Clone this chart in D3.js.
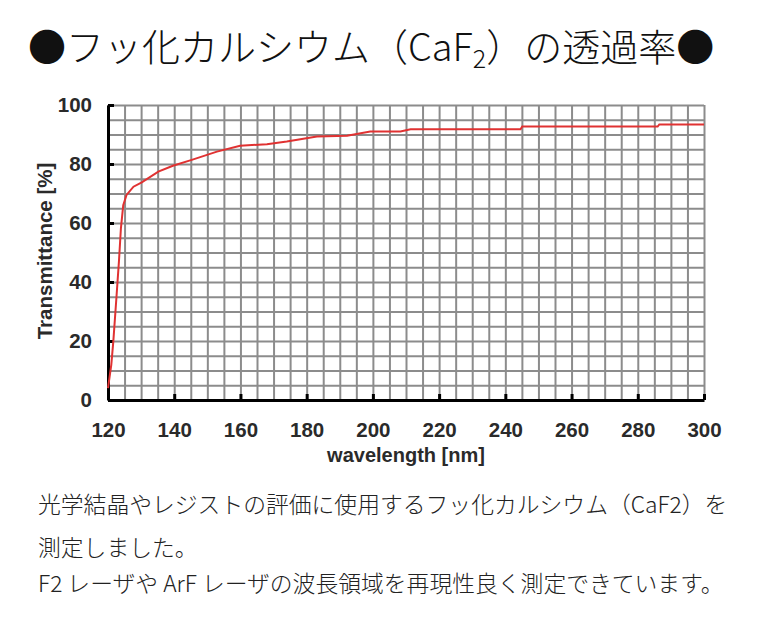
<!DOCTYPE html>
<html>
<head>
<meta charset="utf-8">
<script src="https://cdn.jsdelivr.net/npm/d3@7"></script>
<style>
    body { margin: 0; background: #fff; }
    .chart text { font-family: "Liberation Sans", Arial, sans-serif; }
    .chart text.jp { font-family: "Noto Sans CJK JP", sans-serif; }
</style>
</head>
<body>
<div class="chart"></div>
<script>
var wavelength = [120, 120.5, 121, 121.6, 122.6, 123.3, 123.9, 124.6, 125.6, 127.7, 130.2, 135.2, 139.6, 145.3, 152.9, 159.9, 168, 174, 183.1, 192.2, 199.2, 208.3, 211.4, 244.6, 245.1, 286, 286.5, 300];
var transmittance = [4, 8, 12, 19.8, 35.6, 46.9, 58.2, 66, 69.5, 72.3, 73.8, 77.4, 79.4, 81.4, 84.2, 86.2, 86.7, 87.6, 89.3, 89.6, 91, 91, 91.8, 91.8, 92.7, 92.7, 93.4, 93.4];
var xTicks = [120, 140, 160, 180, 200, 220, 240, 260, 280, 300];
var yTicks = [0, 20, 40, 60, 80, 100];
var titleParts = ["●フッ化カルシウム（CaF", "2", "）の透過率●"];
var noteLines = [
    "光学結晶やレジストの評価に使用するフッ化カルシウム（CaF2）を",
    "測定しました。",
    "F2 レーザや ArF レーザの波長領域を再現性良く測定できています。"
];

var Chart = {
    width: 763,
    height: 635,
    left: 108,
    right: 704,
    top: 105,
    bottom: 400,
    gridColor: "#8c8c8c",
    lineColor: "#e03232",
    svg: null,
    x: null,
    y: null,
    init: function () {
        this.svg = d3.select(".chart").append("svg")
            .attr("width", this.width)
            .attr("height", this.height);

        this.x = d3.scaleLinear().domain([120, 300]).range([this.left, this.right]);
        this.y = d3.scaleLinear().domain([0, 100]).range([this.bottom, this.top]);

        this.addTitle()
            .addGrid()
            .addAxes()
            .addCurve()
            .addNotes();
    },
    addTitle: function () {
        var t = this.svg.append("text")
            .attr("class", "jp")
            .attr("x", 28)
            .attr("y", 61)
            .attr("font-size", 38)
            .attr("font-weight", 300)
            .attr("fill", "#111");
        t.append("tspan").text(titleParts[0]);
        t.append("tspan").attr("font-size", 25).attr("dy", 7).text(titleParts[1]);
        t.append("tspan").attr("dy", -7).text(titleParts[2]);
        return this;
    },
    addGrid: function () {
        var h = this.bottom - this.top;
        var w = this.right - this.left;

        this.svg.append("g")
            .attr("transform", "translate(0," + this.bottom + ")")
            .call(d3.axisBottom(this.x).tickValues(d3.range(120, 301, 5)).tickSize(-h).tickFormat(""))
            .call(function (g) { g.select(".domain").remove(); })
            .selectAll("line")
            .attr("stroke", this.gridColor)
            .attr("stroke-width", 2);

        this.svg.append("g")
            .attr("transform", "translate(" + this.left + ",0)")
            .call(d3.axisLeft(this.y).tickValues(d3.range(0, 101, 5)).tickSize(-w).tickFormat(""))
            .call(function (g) { g.select(".domain").remove(); })
            .selectAll("line")
            .attr("stroke", this.gridColor)
            .attr("stroke-width", 2);

        return this;
    },
    addAxes: function () {
        var xAxis = this.svg.append("g")
            .attr("transform", "translate(0," + this.bottom + ")")
            .call(d3.axisBottom(this.x).tickValues(xTicks).tickSizeInner(-6).tickSizeOuter(0).tickPadding(22));
        var yAxis = this.svg.append("g")
            .attr("transform", "translate(" + this.left + ",0)")
            .call(d3.axisLeft(this.y).tickValues(yTicks).tickSizeInner(-6).tickSizeOuter(0).tickPadding(16));

        [xAxis, yAxis].forEach(function (g) {
            g.select(".domain").attr("stroke", "#000").attr("stroke-width", 3);
            g.selectAll(".tick line").attr("stroke", "#000").attr("stroke-width", 3);
            g.selectAll(".tick text")
                .attr("font-size", 20.5)
                .attr("font-weight", "bold")
                .attr("fill", "#2a2a2a");
        });

        this.svg.append("text")
            .attr("x", (this.left + this.right) / 2)
            .attr("y", 462)
            .attr("text-anchor", "middle")
            .attr("font-size", 20)
            .attr("font-weight", "bold")
            .attr("fill", "#2a2a2a")
            .text("wavelength [nm]");

        this.svg.append("text")
            .attr("transform", "translate(52," + 251 + ") rotate(-90)")
            .attr("text-anchor", "middle")
            .attr("font-size", 20.5)
            .attr("font-weight", "bold")
            .attr("fill", "#2a2a2a")
            .text("Transmittance [%]");

        return this;
    },
    addCurve: function () {
        var line = d3.line()
            .x(function (d) { return Chart.x(d[0]); })
            .y(function (d) { return Chart.y(d[1]); });

        this.svg.append("path")
            .datum(d3.zip(wavelength, transmittance))
            .attr("d", line)
            .attr("fill", "none")
            .attr("stroke", this.lineColor)
            .attr("stroke-width", 2);

        return this;
    },
    addNotes: function () {
        this.svg.selectAll(".note")
            .data(noteLines)
            .enter()
            .append("text")
            .attr("class", "note jp")
            .attr("x", 38)
            .attr("y", function (d, i) { return [513, 556, 592][i]; })
            .attr("font-size", 22.8)
            .attr("font-weight", 300)
            .attr("fill", "#222")
            .text(function (d) { return d; });

        return this;
    }
};

Chart.init();
</script>
</body>
</html>
